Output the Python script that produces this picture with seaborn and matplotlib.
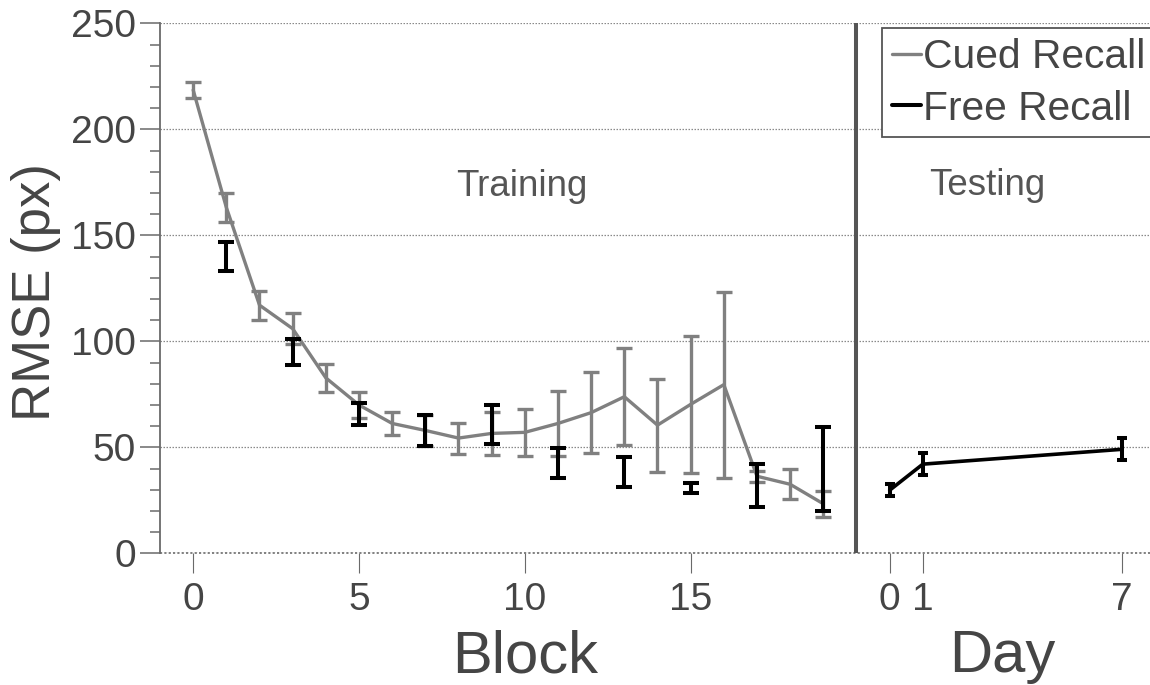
import matplotlib
matplotlib.use("Agg")
import matplotlib.pyplot as plt
import matplotlib.transforms as mtransforms
from matplotlib.lines import Line2D
from matplotlib.ticker import MultipleLocator, FixedLocator
import seaborn as sns
import pandas as pd

# ---- data ----
cued_block = list(range(20))
cued_mean = [218.6, 163.2, 117.1, 106.0, 82.8, 70.0, 61.3, 58.0, 54.4, 56.6,
             57.1, 61.3, 66.4, 73.9, 60.5, 70.3, 79.6, 36.4, 32.6, 23.4]
cued_err = [3.8, 6.7, 6.9, 7.2, 6.7, 6.3, 5.5, 7.2, 7.3, 10.2,
            11.2, 15.4, 19.2, 22.8, 21.9, 32.2, 43.8, 2.6, 7.1, 6.0]

free_block = [1, 3, 5, 7, 9, 11, 13, 15, 17, 19]
free_mean = [140.2, 95.0, 65.8, 58.0, 60.8, 42.6, 38.5, 30.8, 32.0, 39.8]
free_err = [6.9, 6.3, 5.2, 7.3, 9.2, 7.2, 7.1, 2.5, 10.0, 19.7]

test_day = [0, 1, 7]
test_mean = [29.8, 42.1, 49.1]
test_err = [2.8, 5.2, 5.2]

block_ticks = [0, 5, 10, 15]
day_ticks = [0, 1, 7]
legend_labels = ["Cued Recall", "Free Recall"]

DAY_OFFSET = 21      # position of day 0 on the shared x axis
DIVIDER = 20         # vertical separator between training and testing

# ---- style ----
sns.set_style("white")
plt.rcParams["font.family"] = ["Liberation Sans", "DejaVu Sans"]

GRAY = "#808080"
TXT = "#454545"
AX = "#6a6a6a"

fig = plt.figure(figsize=(11.5, 6.85), dpi=100)
ax = fig.add_axes([160 / 1150, 131.6 / 685, 990 / 1150, 530 / 685])

cued_df = pd.DataFrame({"block": cued_block, "rmse": cued_mean})
test_df = pd.DataFrame({"x": [DAY_OFFSET + d for d in test_day], "rmse": test_mean})

# cued recall line + error bars
sns.lineplot(data=cued_df, x="block", y="rmse", color=GRAY, linewidth=2.4,
             ax=ax, zorder=3)
ax.errorbar(cued_block, cued_mean, yerr=cued_err, fmt="none", ecolor=GRAY,
            elinewidth=2.4, capsize=5.8, capthick=2.4, zorder=3)

# free recall during training (bars only)
ax.errorbar(free_block, free_mean, yerr=free_err, fmt="none", ecolor="black",
            elinewidth=2.9, capsize=5.8, capthick=2.9, zorder=4)

# free recall testing
sns.lineplot(data=test_df, x="x", y="rmse", color="black", linewidth=2.6,
             ax=ax, zorder=4)
ax.errorbar(test_df["x"], test_mean, yerr=test_err, fmt="none", ecolor="black",
            elinewidth=2.9, capsize=3.3, capthick=2.9, zorder=4)

# divider
ax.axvline(DIVIDER, color="#555555", linewidth=2.9, zorder=5)

# axes limits / ticks
ax.set_xlim(-1.0, 28.85)
ax.set_ylim(0, 250)
xt = block_ticks + [DAY_OFFSET + d for d in day_ticks]
ax.set_xticks(xt)
ax.set_xticklabels([str(b) for b in block_ticks] + [str(d) for d in day_ticks])
ax.yaxis.set_major_locator(FixedLocator([0, 50, 100, 150, 200, 250]))
ax.yaxis.set_minor_locator(MultipleLocator(10))

ax.tick_params(axis="x", which="major", direction="out", length=14.4, width=0.8,
               color=AX, labelsize=28, labelcolor=TXT, pad=6, bottom=True)
ax.tick_params(axis="y", which="major", direction="out", length=14.4, width=1.1,
               color=AX, labelsize=28, labelcolor=TXT, pad=3, left=True)
ax.tick_params(axis="y", which="minor", direction="out", length=7.2, width=1.1,
               color=AX, left=True)

for s in ["top", "right", "bottom"]:
    ax.spines[s].set_visible(False)
ax.spines["left"].set_color(AX)
ax.spines["left"].set_linewidth(1.3)

ax.yaxis.grid(True, which="major", color="#8a8a8a", linestyle=(0, (1.2, 1.2)),
              linewidth=0.9)
ax.xaxis.grid(False)
ax.set_axisbelow(True)
# dotted baseline at zero (not clipped)
ax.axhline(0, color="#777777", linestyle=(0, (1.2, 1.2)), linewidth=1.3,
           clip_on=False, zorder=1)

# labels
ax.set_xlabel("")
ax.set_ylabel("RMSE (px)", fontsize=38, color=TXT)
ax.yaxis.set_label_coords(-0.0995, 0.494)

trans = mtransforms.blended_transform_factory(ax.transData, ax.transAxes)
ax.text(10, -0.224, "Block", transform=trans, ha="center", va="baseline",
        fontsize=43, color=TXT)
ax.text(24.4, -0.224, "Day", transform=trans, ha="center", va="baseline",
        fontsize=43, color=TXT)

ax.text(9.9, 168.5, "Training", ha="center", va="baseline", fontsize=26.5,
        color="#555555")
ax.text(23.95, 169, "Testing", ha="center", va="baseline", fontsize=26.5,
        color="#555555")

# legend
handles = [Line2D([], [], color=GRAY, linewidth=2.4),
           Line2D([], [], color="black", linewidth=2.9)]
leg = ax.legend(handles, legend_labels, loc="upper left",
                bbox_to_anchor=(882 / 1150, 1 - 28 / 685),
                bbox_transform=fig.transFigure, borderaxespad=0,
                fontsize=29.3, frameon=True, fancybox=False, framealpha=1,
                edgecolor="#555555", borderpad=0.24, labelspacing=0.34,
                handlelength=0.72, handletextpad=0.05)
leg.get_frame().set_linewidth(1.3)
for t in leg.get_texts():
    t.set_color(TXT)
leg.set_zorder(10)

fig.savefig("out.png", dpi=100, facecolor="white")
